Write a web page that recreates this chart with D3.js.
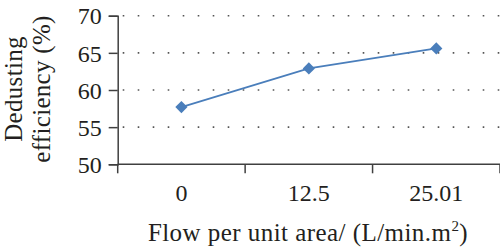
<!DOCTYPE html>
<html>
<head>
<meta charset="utf-8">
<script src="https://cdn.jsdelivr.net/npm/d3@7"></script>
<style>
  html, body { margin: 0; padding: 0; background: #fff; }
  svg text { font-family: 'Liberation Serif', serif; }
</style>
</head>
<body>
<div id="chart"></div>
<script>
// data
const categories = ['0', '12.5', '25.01']
const efficiency = [57.7, 62.9, 65.6]
const yTicks = [50, 55, 60, 65, 70]

const width = 500
const height = 252
const margin = { top: 15.7, right: 0, bottom: 87.7, left: 117.7 }
const fontSize = 24

const svg = d3.select('#chart')
  .append('svg')
  .attr('width', width)
  .attr('height', height)

const x = d3.scaleBand()
  .domain(categories)
  .range([margin.left, width - margin.right])
  .padding(0)

const y = d3.scaleLinear()
  .domain([50, 70])
  .range([height - margin.bottom, margin.top])

const axisColor = '#404040'

// dotted gridlines
svg.append('g')
  .selectAll('line')
  .data(yTicks.filter(d => d !== 50))
  .join('line')
  .attr('x1', margin.left + 5)
  .attr('x2', width)
  .attr('y1', d => y(d))
  .attr('y2', d => y(d))
  .attr('stroke', '#555')
  .attr('stroke-width', 1.6)
  .attr('stroke-dasharray', '1.6 13.4')

// y axis
const yAxis = svg.append('g')
  .attr('transform', `translate(${margin.left},0)`)
  .call(d3.axisLeft(y).tickValues(yTicks).tickSize(9).tickPadding(7))
yAxis.attr('font-family', null).attr('font-size', null)
yAxis.select('.domain').attr('stroke', axisColor).attr('stroke-width', 1.5)
yAxis.selectAll('.tick line').attr('stroke', axisColor).attr('stroke-width', 1.5)
yAxis.selectAll('.tick text')
  .attr('fill', '#231f20')
  .attr('dy', '0.34em')
  .style('font-size', fontSize + 'px')

// x axis, ticks on the band edges
const xAxis = svg.append('g')
  .attr('transform', `translate(0,${y(50)})`)
xAxis.append('line')
  .attr('x1', margin.left)
  .attr('x2', width)
  .attr('stroke', axisColor)
  .attr('stroke-width', 1.5)
xAxis.selectAll('.edge')
  .data(categories)
  .join('line')
  .attr('class', 'edge')
  .attr('x1', d => x(d) + x.bandwidth())
  .attr('x2', d => x(d) + x.bandwidth())
  .attr('y1', 0)
  .attr('y2', 9)
  .attr('stroke', axisColor)
  .attr('stroke-width', 1.5)
xAxis.append('line')
  .attr('x1', margin.left)
  .attr('x2', margin.left)
  .attr('y1', 0)
  .attr('y2', 9)
  .attr('stroke', axisColor)
  .attr('stroke-width', 1.5)
xAxis.selectAll('text')
  .data(categories)
  .join('text')
  .attr('x', d => x(d) + x.bandwidth() / 2)
  .attr('y', 37)
  .attr('text-anchor', 'middle')
  .attr('fill', '#231f20')
  .style('font-size', fontSize + 'px')
  .text(d => d)

// series line + diamond markers
const pts = categories.map((c, i) => [x(c) + x.bandwidth() / 2, y(efficiency[i])])
svg.append('path')
  .datum(pts)
  .attr('d', d3.line())
  .attr('fill', 'none')
  .attr('stroke', '#4a7ebb')
  .attr('stroke-width', 1.8)

svg.append('g')
  .selectAll('path')
  .data(pts)
  .join('path')
  .attr('d', d3.symbol(d3.symbolDiamond2, 95))
  .attr('transform', d => `translate(${d[0]},${d[1]})`)
  .attr('fill', '#4a7ebb')

// axis titles
const xTitle = svg.append('text')
  .attr('x', 308)
  .attr('y', 241)
  .attr('text-anchor', 'middle')
  .attr('fill', '#231f20')
  .style('font-size', '25px')
  .style('letter-spacing', '0.45px')
xTitle.append('tspan').text('Flow per unit area/ (L/min.m')
xTitle.append('tspan').attr('dy', -10).style('font-size', '15px').text('2')
xTitle.append('tspan').attr('dy', 10).text(')')

const yTitle = svg.append('text')
  .attr('transform', 'translate(0,89) rotate(-90)')
  .attr('text-anchor', 'middle')
  .attr('fill', '#231f20')
  .style('font-size', '25px')
  .style('letter-spacing', '0.3px')
yTitle.append('tspan').attr('x', 0).attr('y', 22).text('Dedusting')
yTitle.append('tspan').attr('x', 0).attr('y', 50).text('efficiency (%)')
</script>
</body>
</html>
